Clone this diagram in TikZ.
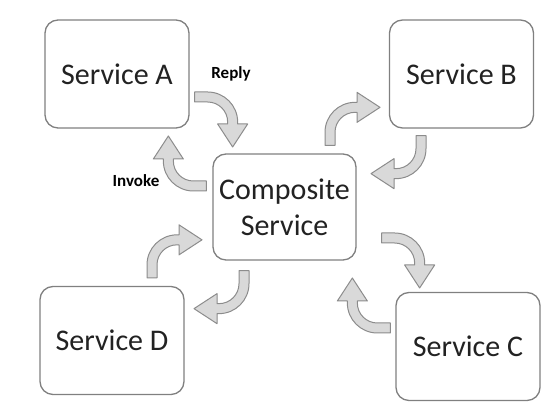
\documentclass[tikz,border=0pt]{standalone}
\usepackage{fontspec}
\setmainfont{Carlito}
\usetikzlibrary{calc}
\definecolor{arrfill}{HTML}{D9D9D9}
\definecolor{arrline}{HTML}{8C8C8C}
\definecolor{boxline}{HTML}{808080}
\definecolor{txt}{HTML}{222222}
\newcommand\bentarrow[2]{%
  \draw[blockarrow, shift={(#1)}, rotate=#2]
    (0,5) -- (13,5) arc[start angle=90,end angle=0,radius=30]
    -- (43,-27) -- (53,-27) -- (38,-50) -- (23,-27) -- (33,-27)
    -- (33,-25) arc[start angle=0,end angle=90,radius=20]
    -- (0,-5) -- cycle;}
\begin{document}
\begin{tikzpicture}[x=1pt,y=1pt,
  svc/.style={draw=boxline, line width=1.3pt, rounded corners=13pt, fill=white,
    minimum width=144pt, minimum height=108pt, inner sep=0pt, align=center,
    font=\fontsize{30}{36}\selectfont, text=txt},
  lbl/.style={font=\bfseries\fontsize{17}{20}\selectfont, text=black, inner sep=0pt},
  blockarrow/.style={fill=arrfill, draw=arrline, line width=1pt, line join=round}]
\useasboundingbox (0,0) rectangle (558,417);
\node[svc] (A) at (117,343) {Service A};
\node[svc] (B) at (461.5,343) {Service B};
\node[svc] (D) at (112,76.5) {Service D};
\node[svc] (C) at (468,70.5) {Service C};
\node[svc, minimum width=143pt, minimum height=106pt] (S) at (284.5,210) {Composite\\Service};
\node[lbl] (reply) at (231,343) {Reply};
\node[lbl] (invoke) at (136,236) {Invoke};
\coordinate (t1) at ($(A.east)+(5,-23)$);
\coordinate (t2) at ($(S.west)+(-6,21)$);
\coordinate (t3) at ($(S.north)+(45.5,8)$);
\coordinate (t4) at ($(B.south)+(-40.5,-7)$);
\coordinate (t5) at ($(S.east)+(25,-31)$);
\coordinate (t6) at ($(C.west)+(-5,18.5)$);
\coordinate (t7) at ($(D.north)+(40,8)$);
\coordinate (t8) at ($(S.south)+(-40.5,-10)$);
\bentarrow{t1}{0}
\bentarrow{t2}{180}
\bentarrow{t3}{90}
\bentarrow{t4}{-90}
\bentarrow{t5}{0}
\bentarrow{t6}{180}
\bentarrow{t7}{90}
\bentarrow{t8}{-90}
\end{tikzpicture}
\end{document}
